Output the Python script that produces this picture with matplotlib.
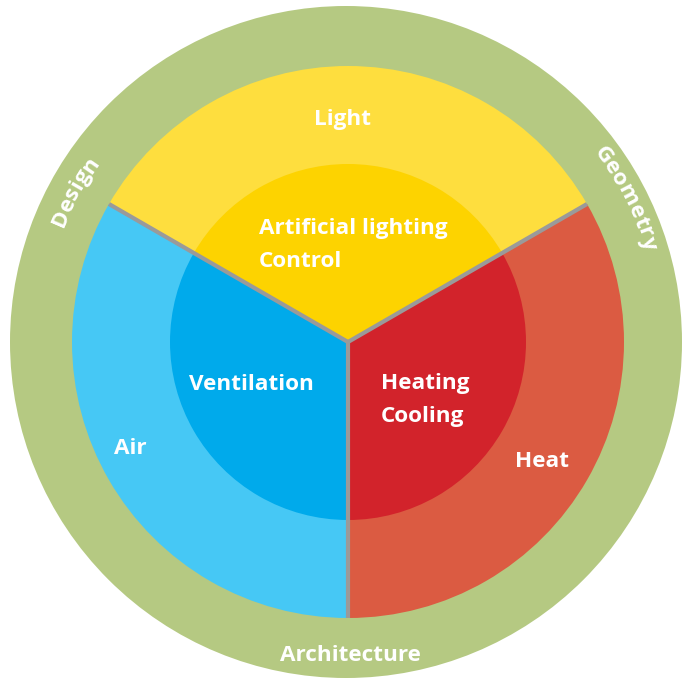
import matplotlib
matplotlib.use("Agg")
import matplotlib.pyplot as plt
import numpy as np
from matplotlib.patches import Circle
from matplotlib.font_manager import FontProperties

# ---- data ----
themes = ["Light", "Air", "Heat"]
theme_share = [1, 1, 1]
inner_labels = ["Artificial lighting\nControl", "Ventilation", "Heating\nCooling"]
ring_labels = ["Design", "Geometry", "Architecture"]

# ---- style / layout ----
outer_colors = ["#FEDE3E", "#46C8F5", "#DB5B42"]
inner_colors = ["#FDD300", "#00AAEB", "#D2232B"]
ring_color = "#B5C982"
sep_color = "#9A9A9A"

W, H = 682, 678
fig = plt.figure(figsize=(W / 100, H / 100), dpi=100)
ax = fig.add_axes([0, 0, 1, 1])

def Y(py):
    return H - py - 2.5

cx, cy = 348, H - 342
rcx, rcy = 346, H - 342
ring_r = 336
R_out = 276
R_in = 178

ax.add_patch(Circle((rcx, rcy), ring_r, facecolor=ring_color, lw=0, zorder=0))
ax.pie(theme_share, colors=outer_colors, radius=R_out, center=(cx, cy),
       startangle=30, counterclock=True, wedgeprops=dict(linewidth=0, zorder=1))
ax.pie(theme_share, colors=inner_colors, radius=R_in, center=(cx, cy),
       startangle=30, counterclock=True, wedgeprops=dict(linewidth=0, zorder=2))

bounds = 30 + 360 * np.concatenate([[0], np.cumsum(theme_share)[:-1]]) / np.sum(theme_share)
for b in bounds:
    a = np.radians(b)
    ax.plot([cx, cx + R_out * np.cos(a)], [cy, cy + R_out * np.sin(a)],
            color=sep_color, lw=3.0, solid_capstyle="butt", zorder=3)

fp = FontProperties(family=["Open Sans", "DejaVu Sans"], weight="bold", size=16.2)

outer_pos = [(342, 117), (130, 446), (542, 459)]
for lab, (px, py) in zip(themes, outer_pos):
    ax.text(px, Y(py), lab, ha="center", va="center", color="white",
            fontproperties=fp, zorder=5)

inner_pos = [(259, 226, "left"), (251, 382, "center"), (381, 381, "left")]
line_gap = 33
for lab, (px, py, ha) in zip(inner_labels, inner_pos):
    for k, line in enumerate(lab.split("\n")):
        ax.text(px, Y(py + k * line_gap), line, ha=ha, va="center",
                color="white", fontproperties=fp, zorder=5)

renderer = fig.canvas.get_renderer()

def curved(s, theta_deg, r):
    widths = [0.0]
    for i in range(1, len(s) + 1):
        w, h, d = renderer.get_text_width_height_descent(s[:i], fp, ismath=False)
        widths.append(w)
    total = widths[-1]
    for i, ch in enumerate(s):
        mid = (widths[i] + widths[i + 1]) / 2 - total / 2
        ang = np.radians(theta_deg) - mid / r
        x = rcx + r * np.cos(ang)
        y = rcy + r * np.sin(ang)
        ax.text(x, y, ch, rotation=np.degrees(ang) - 90, ha="center",
                va="baseline", rotation_mode="anchor", color="white",
                fontproperties=fp, zorder=5)

curved(ring_labels[0], 151.0, 305)
curved(ring_labels[1], 27.3, 312)
ax.text(350, Y(653), ring_labels[2], ha="center", va="center", color="white",
        fontproperties=fp, zorder=5)

ax.set_xlim(0, W)
ax.set_ylim(0, H)
ax.set_aspect("equal")
ax.axis("off")
fig.savefig("out.png", dpi=100)
